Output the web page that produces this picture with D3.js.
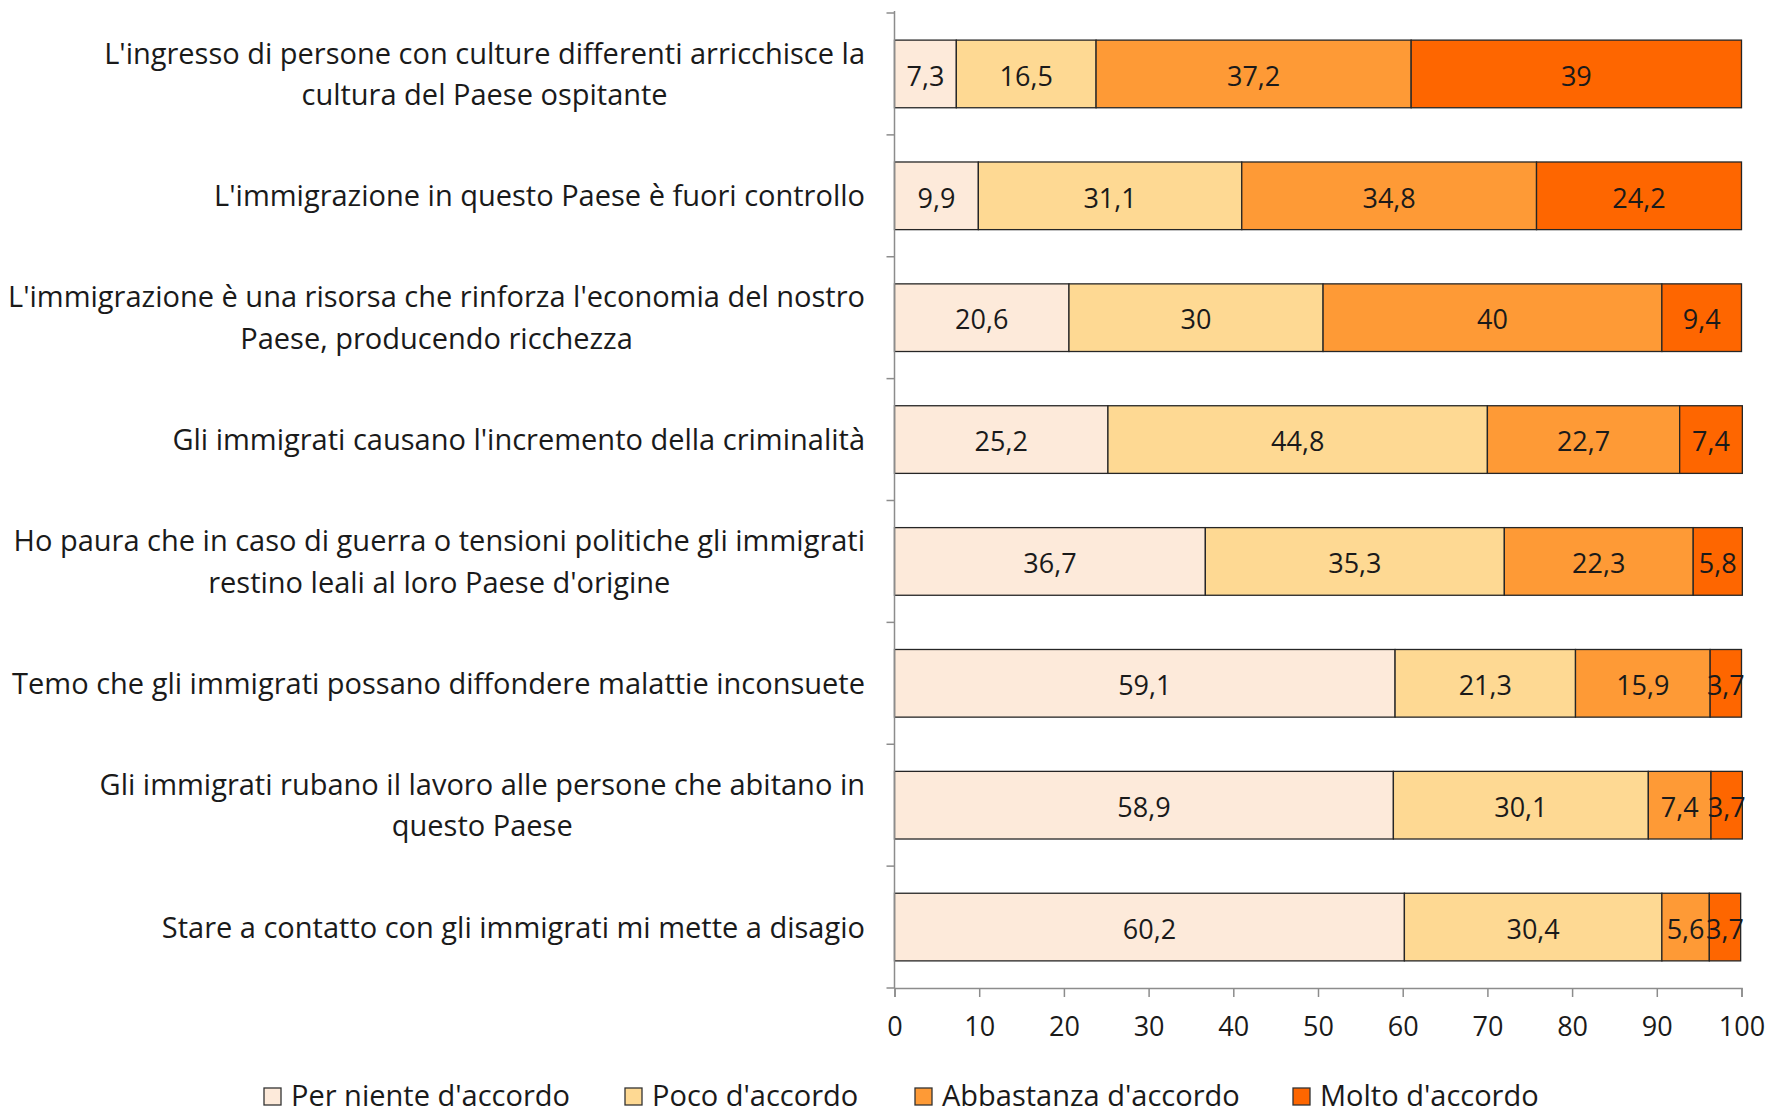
<!DOCTYPE html>
<html>
<head>
<meta charset="utf-8">
<script src="https://cdn.jsdelivr.net/npm/d3@7"></script>
<style>
  body { margin: 0; background: #fff; }
  text { font-family: "Open Sans", Lato, sans-serif; fill: #1a1a1a; }
</style>
</head>
<body>
<script>
var width = 1771,
    height = 1114;

// data
var categories = [
  ["L'ingresso di persone con culture differenti arricchisce la", "cultura del Paese ospitante"],
  ["L'immigrazione in questo Paese è fuori controllo"],
  ["L'immigrazione è una risorsa che rinforza l'economia del nostro", "Paese, producendo ricchezza"],
  ["Gli immigrati causano l'incremento della criminalità"],
  ["Ho paura che in caso di guerra o tensioni politiche gli immigrati", "restino leali al loro Paese d'origine"],
  ["Temo che gli immigrati possano diffondere malattie inconsuete"],
  ["Gli immigrati rubano il lavoro alle persone che abitano in", "questo Paese"],
  ["Stare a contatto con gli immigrati mi mette a disagio"]
];
var seriesNames = ["Per niente d'accordo", "Poco d'accordo", "Abbastanza d'accordo", "Molto d'accordo"];
var perNiente  = [7.3, 9.9, 20.6, 25.2, 36.7, 59.1, 58.9, 60.2];
var poco       = [16.5, 31.1, 30, 44.8, 35.3, 21.3, 30.1, 30.4];
var abbastanza = [37.2, 34.8, 40, 22.7, 22.3, 15.9, 7.4, 5.6];
var molto      = [39, 24.2, 9.4, 7.4, 5.8, 3.7, 3.7, 3.7];
var xTicks = [0, 10, 20, 30, 40, 50, 60, 70, 80, 90, 100];

var colors = ["#fdeada", "#fed993", "#fe9a36", "#fe6600"];
var series = [perNiente, poco, abbastanza, molto];
var fontSize = "27px",
    labelSize = "29px";

var svg = d3.select("body").append("svg")
    .attr("width", width)
    .attr("height", height);

var x = d3.scaleLinear()
    .domain([0, 100])
    .range([894.5, 1741.5]);

var y = d3.scaleBand()
    .domain(d3.range(categories.length))
    .range([13, 988])
    .paddingInner(0.445)
    .paddingOuter(0.2225);

// stacked bars
var rows = categories.map(function(c, i) {
  var acc = 0;
  return series.map(function(s, k) {
    var seg = { row: i, k: k, v: s[i], x0: acc, x1: acc + s[i] };
    acc += s[i];
    return seg;
  });
});

var g = svg.append("g").attr("class", "bars");
rows.forEach(function(segs) {
  g.selectAll(null)
    .data(segs)
    .enter()
    .append("rect")
    .attr("x", function(d) { return x(d.x0); })
    .attr("y", function(d) { return y(d.row); })
    .attr("width", function(d) { return x(d.x1) - x(d.x0); })
    .attr("height", y.bandwidth())
    .attr("fill", function(d) { return colors[d.k]; })
    .attr("stroke", "#262626")
    .attr("stroke-width", 1.3);
});

// value labels
rows.forEach(function(segs) {
  g.selectAll(null)
    .data(segs)
    .enter()
    .append("text")
    .attr("x", function(d) { return x((d.x0 + d.x1) / 2); })
    .attr("y", function(d) { return y(d.row) + y.bandwidth() / 2 + 2; })
    .attr("dy", "0.36em")
    .attr("text-anchor", "middle")
    .style("font-size", fontSize)
    .text(function(d) { return String(d.v).replace(".", ","); });
});

// category axis (left)
var axisColor = "#8c8c8c";
var step = y.step();
svg.append("line")
    .attr("x1", x(0)).attr("x2", x(0))
    .attr("y1", 11).attr("y2", 988)
    .attr("stroke", axisColor).attr("stroke-width", 1.5);
svg.selectAll("line.ctick")
    .data(d3.range(categories.length + 1))
    .enter()
    .append("line")
    .attr("class", "ctick")
    .attr("x1", x(0) - 8).attr("x2", x(0))
    .attr("y1", function(d) { return 988 - d * step; })
    .attr("y2", function(d) { return 988 - d * step; })
    .attr("stroke", axisColor).attr("stroke-width", 1.5);

// category labels: block right-aligned, lines centered in block
var labelRight = 865,
    lineH = 41.5;
categories.forEach(function(lines, i) {
  var cy = y(i) + y.bandwidth() / 2;
  var grp = svg.append("g");
  var texts = grp.selectAll("text")
    .data(lines)
    .enter()
    .append("text")
    .style("font-size", labelSize)
    .attr("text-anchor", "middle")
    .attr("dy", "0.36em")
    .attr("y", function(d, j) { return cy + (j - (lines.length - 1) / 2) * lineH; })
    .text(function(d) { return d; });
  var maxW = 0;
  texts.each(function() { maxW = Math.max(maxW, this.getComputedTextLength()); });
  texts.attr("x", labelRight - maxW / 2);
});

// x axis
var xAxis = d3.axisBottom(x)
    .tickValues(xTicks)
    .tickSize(9)
    .tickPadding(20)
    .tickFormat(d3.format("d"));
var ax = svg.append("g")
    .attr("transform", "translate(0,988)")
    .call(xAxis);
ax.select(".domain").attr("stroke", axisColor).attr("stroke-width", 1.5);
ax.selectAll(".tick line").attr("stroke", axisColor).attr("stroke-width", 1.5);
ax.selectAll(".tick text")
    .style("font-size", fontSize)
    .style("font-family", "'Open Sans', sans-serif")
    .attr("fill", "#1a1a1a");

// legend
var legendX = [264, 625, 915, 1293];
var legend = svg.append("g").attr("class", "legend");
seriesNames.forEach(function(name, k) {
  legend.append("rect")
    .attr("x", legendX[k])
    .attr("y", 1088)
    .attr("width", 17)
    .attr("height", 17)
    .attr("fill", colors[k])
    .attr("stroke", "#333")
    .attr("stroke-width", 1.3);
  legend.append("text")
    .attr("x", legendX[k] + 27)
    .attr("y", 1096)
    .attr("dy", "0.36em")
    .style("font-size", labelSize)
    .text(name);
});
</script>
</body>
</html>
